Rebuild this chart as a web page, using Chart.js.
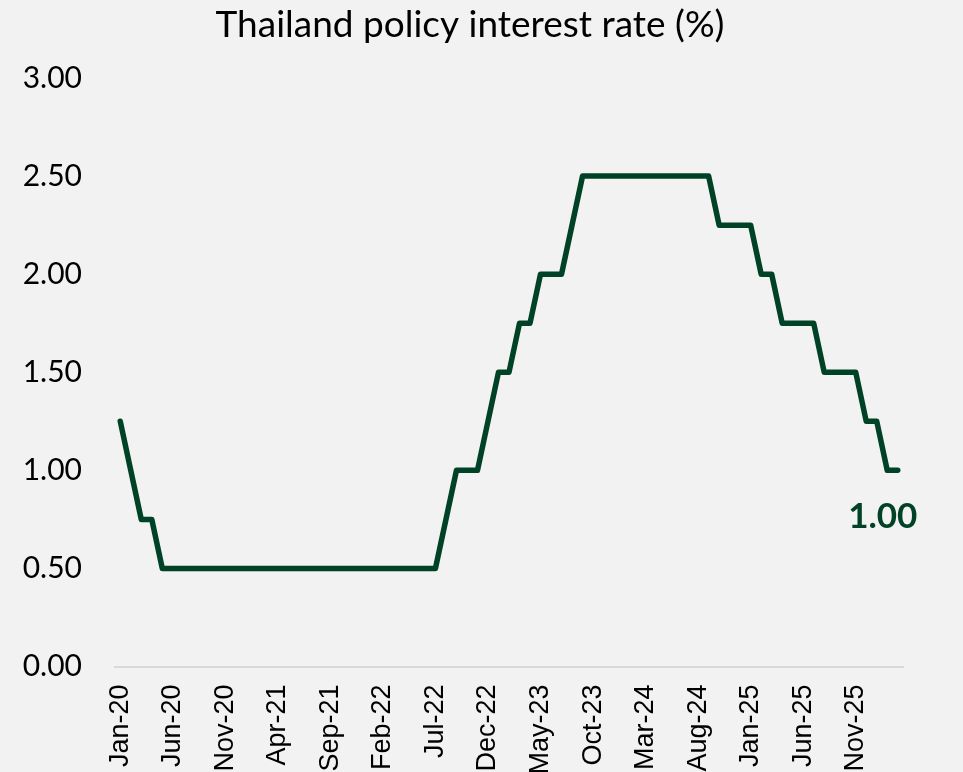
<!DOCTYPE html>
<html>
<head>
<meta charset="utf-8">
<script src="https://cdn.jsdelivr.net/npm/chart.js@4"></script>
<style>
  html, body { margin: 0; padding: 0; background: #f2f2f2; }
  canvas { display: block; }
</style>
</head>
<body>
<canvas id="chart" width="963" height="772"></canvas>
<script>
// monthly labels, Jan-20 .. Mar-26
const months2020 = ["Jan-20","Feb-20","Mar-20","Apr-20","May-20","Jun-20","Jul-20","Aug-20","Sep-20","Oct-20","Nov-20","Dec-20"];
const months2021 = ["Jan-21","Feb-21","Mar-21","Apr-21","May-21","Jun-21","Jul-21","Aug-21","Sep-21","Oct-21","Nov-21","Dec-21"];
const months2022 = ["Jan-22","Feb-22","Mar-22","Apr-22","May-22","Jun-22","Jul-22","Aug-22","Sep-22","Oct-22","Nov-22","Dec-22"];
const months2023 = ["Jan-23","Feb-23","Mar-23","Apr-23","May-23","Jun-23","Jul-23","Aug-23","Sep-23","Oct-23","Nov-23","Dec-23"];
const months2024 = ["Jan-24","Feb-24","Mar-24","Apr-24","May-24","Jun-24","Jul-24","Aug-24","Sep-24","Oct-24","Nov-24","Dec-24"];
const months2025 = ["Jan-25","Feb-25","Mar-25","Apr-25","May-25","Jun-25","Jul-25","Aug-25","Sep-25","Oct-25","Nov-25","Dec-25"];
const months2026 = ["Jan-26","Feb-26","Mar-26"];

// policy rate (%) per month
const rate2020 = [1.25, 1.00, 0.75, 0.75, 0.50, 0.50, 0.50, 0.50, 0.50, 0.50, 0.50, 0.50];
const rate2021 = [0.50, 0.50, 0.50, 0.50, 0.50, 0.50, 0.50, 0.50, 0.50, 0.50, 0.50, 0.50];
const rate2022 = [0.50, 0.50, 0.50, 0.50, 0.50, 0.50, 0.50, 0.75, 1.00, 1.00, 1.00, 1.25];
const rate2023 = [1.50, 1.50, 1.75, 1.75, 2.00, 2.00, 2.00, 2.25, 2.50, 2.50, 2.50, 2.50];
const rate2024 = [2.50, 2.50, 2.50, 2.50, 2.50, 2.50, 2.50, 2.50, 2.50, 2.25, 2.25, 2.25];
const rate2025 = [2.25, 2.00, 2.00, 1.75, 1.75, 1.75, 1.75, 1.50, 1.50, 1.50, 1.50, 1.25];
const rate2026 = [1.25, 1.00, 1.00];

const yTicks = [0, 0.5, 1, 1.5, 2, 2.5, 3];
const labelEvery = 5;

const labels = [].concat(months2020, months2021, months2022, months2023, months2024, months2025, months2026);
const rates = [].concat(rate2020, rate2021, rate2022, rate2023, rate2024, rate2025, rate2026);

const lineColor = "#004225";

// title drawn over the reserved top padding
const titlePlugin = {
  id: "topTitle",
  afterDraw(chart) {
    const ctx = chart.ctx;
    ctx.save();
    ctx.font = "37px Lato";
    ctx.fillStyle = "#000000";
    ctx.textAlign = "center";
    ctx.textBaseline = "middle";
    ctx.fillText("Thailand policy interest rate (%)", 470, 25);
    ctx.restore();
  }
};

// last value label under the end of the line
const lastLabelPlugin = {
  id: "lastLabel",
  afterDatasetsDraw(chart) {
    const meta = chart.getDatasetMeta(0);
    const last = meta.data[meta.data.length - 1];
    const value = chart.data.datasets[0].data[meta.data.length - 1];
    const ctx = chart.ctx;
    ctx.save();
    ctx.font = "bold 35px Lato";
    ctx.fillStyle = lineColor;
    ctx.textAlign = "center";
    ctx.textBaseline = "middle";
    ctx.fillText(value.toFixed(2), last.x - 15, last.y + 46);
    ctx.restore();
  }
};

const ctx = document.getElementById("chart").getContext("2d");
new Chart(ctx, {
  type: "line",
  data: {
    labels: labels,
    datasets: [{
      label: "Policy rate",
      data: rates,
      borderColor: lineColor,
      borderWidth: 5.5,
      borderJoinStyle: "round",
      borderCapStyle: "round",
      pointRadius: 0,
      tension: 0,
      fill: false
    }]
  },
  options: {
    responsive: false,
    animation: false,
    devicePixelRatio: 1,
    layout: { padding: { top: 78, left: 10, right: 60, bottom: 0 } },
    plugins: {
      legend: { display: false },
      title: { display: false },
      tooltip: { enabled: false }
    },
    scales: {
      x: {
        type: "category",
        offset: true,
        grid: { display: false, drawTicks: false },
        border: { display: true, color: "#d9d9d9", width: 2 },
        ticks: {
          autoSkip: false,
          minRotation: 90,
          maxRotation: 90,
          padding: 18,
          color: "#000000",
          font: { family: "Liberation Sans", size: 27 },
          callback: function (val, i) {
            return i % labelEvery === 0 ? this.getLabelForValue(val) : "";
          }
        },
        afterFit(scale) { scale.height = 105.5; }
      },
      y: {
        min: 0,
        max: 3,
        afterBuildTicks(scale) { scale.ticks = yTicks.map(v => ({ value: v })); },
        grid: { display: false, drawTicks: false },
        border: { display: false },
        ticks: {
          padding: 33,
          color: "#000000",
          font: { family: "Lato", size: 30 },
          callback: v => Number(v).toFixed(2)
        },
        afterFit(scale) { scale.width = 105; }
      }
    }
  },
  plugins: [titlePlugin, lastLabelPlugin]
});
</script>
</body>
</html>
